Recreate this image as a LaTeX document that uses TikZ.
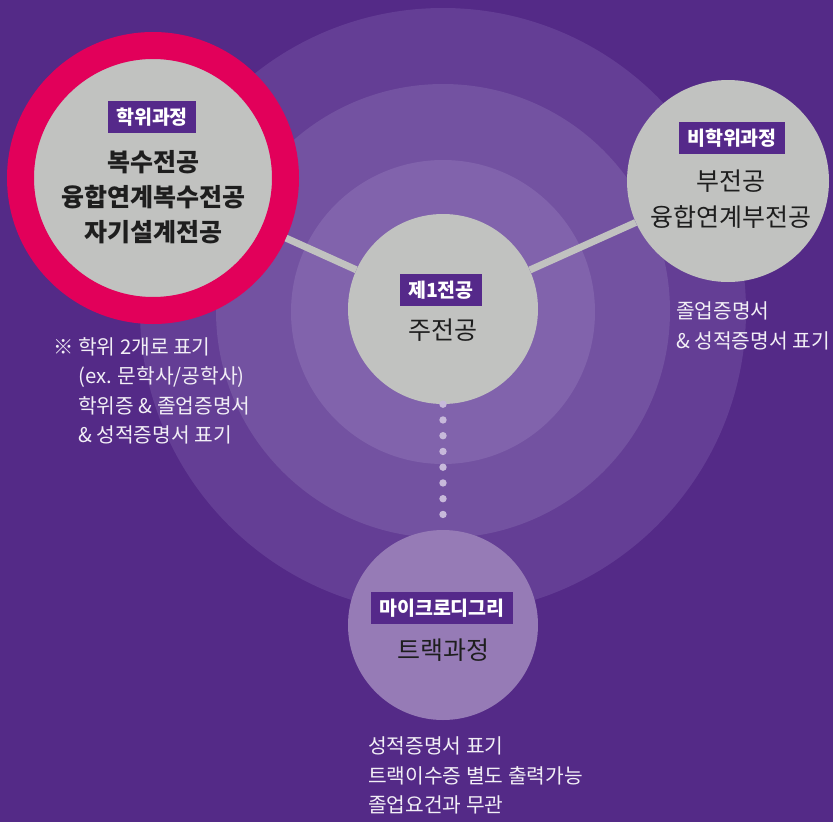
\documentclass[tikz,border=0pt]{standalone}
\usepackage{fontspec}
\setmainfont{Noto Sans CJK KR}
\definecolor{cbg}{HTML}{542A87}
\definecolor{cring1}{HTML}{643E95}
\definecolor{cring2}{HTML}{7352A1}
\definecolor{cring3}{HTML}{8163AC}
\definecolor{cgray}{HTML}{C1C2C0}
\definecolor{cred}{HTML}{E2005A}
\definecolor{clav}{HTML}{967BB6}
\definecolor{cdot}{HTML}{C7B9DA}
\definecolor{cbox}{HTML}{55298A}
\definecolor{ctxt}{HTML}{1E1E1E}
\definecolor{cnote}{HTML}{F2EFF6}
\begin{document}
\begin{tikzpicture}[x=1pt,y=-1pt,
  disc/.style={circle,inner sep=0pt,fill=cgray},
  lab/.style={fill=cbox,text=white,inner xsep=8pt,inner ysep=0pt,minimum height=32pt,
    font=\fontsize{19.5}{22}\selectfont\bfseries},
  maintxt/.style={inner sep=0pt,align=center,text=ctxt,font=\fontsize{25}{36}\selectfont},
  note/.style={inner sep=0pt,align=left,text=cnote,anchor=north west,font=\fontsize{20.3}{29.5}\selectfont},
  conn/.style={draw=cgray,line width=7pt},
  dotconn/.style={draw=cdot,line width=7.4pt,line cap=round,dash pattern=on 0pt off 15.75pt}
]
\fill[cbg] (0,0) rectangle (833,822);
\useasboundingbox (0,0) rectangle (833,822);
% concentric rings
\fill[cring1] (443,311) circle[radius=303];
\fill[cring2] (443,311) circle[radius=227];
\fill[cring3] (443,312) circle[radius=152];

% nodes
\node[disc,draw=cred,line width=27pt,minimum size=265pt] (deg) at (153,178) {};
\node[disc,minimum size=190pt] (main) at (443,309) {};
\node[disc,minimum size=202pt] (nond) at (728,181) {};
\node[disc,fill=clav,minimum size=190pt] (micro) at (443,625) {};

% connectors
\draw[conn] (deg) -- (main);
\draw[conn] (main) -- (nond);
\draw[dotconn] (main) -- (micro);

% labels
\node[lab] (labdeg) at (152,117) {학위과정};
\node[maintxt,font=\fontsize{25}{35}\selectfont\bfseries] (txtdeg) at (153,197) {복수전공\\융합연계복수전공\\자기설계전공};

\node[lab] (labnond) at (732,138) {비학위과정};
\node[maintxt] (txtnond) at (731,199) {부전공\\융합연계부전공};

\node[lab] (labmain) at (441,290) {제1전공};
\node[maintxt] (txtmain) at (443,330) {주전공};

\node[lab] (labmicro) at (442,608) {마이크로디그리};
\node[maintxt] (txtmicro) at (443,650) {트랙과정};

% notes
\node[note] (notedeg) at (53,337) {\makebox[25pt][l]{※}학위 2개로 표기\\\hspace*{25pt}(ex. 문학사/공학사)\\\hspace*{25pt}학위증 \& 졸업증명서\\\hspace*{25pt}\& 성적증명서 표기};
\node[note] (notenond) at (676,302) {졸업증명서\\\& 성적증명서 표기};
\node[note] (notemicro) at (368,737) {성적증명서 표기\\트랙이수증 별도 출력가능\\졸업요건과 무관};
\end{tikzpicture}
\end{document}
